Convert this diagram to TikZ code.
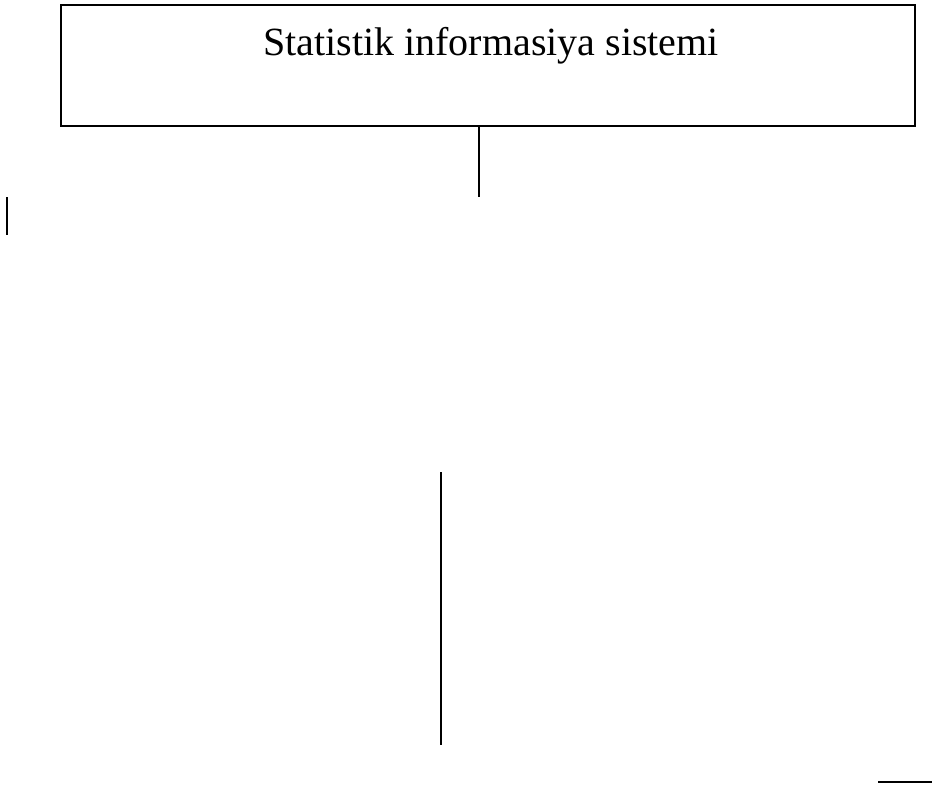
\documentclass[tikz,border=0pt]{standalone}
\usepackage{fontspec}
\setmainfont{Liberation Serif}
\begin{document}
\begin{tikzpicture}[x=1pt,y=-1pt,
  rule/.style={line width=1.6pt,line cap=butt},
  titlebox/.style={draw,line width=2pt,minimum width=854pt,minimum height=121pt,inner sep=0pt}]
  \useasboundingbox (0,0) rectangle (932,788);
  % top box with its title
  \node[titlebox] (sis) at (488,65.5) {};
  \node[font=\fontsize{40}{48}\selectfont,anchor=base] (title) at (491,55) {Statistik informasiya sistemi};
  % free line ends
  \coordinate (sisdown) at (479,197);
  \coordinate (la) at (7,197);
  \coordinate (lb) at (7,235);
  \coordinate (ma) at (441,472);
  \coordinate (mb) at (441,745);
  \coordinate (ra) at (878,782);
  \coordinate (rb) at (932,782);
  \draw[rule] (sis.south -| sisdown) -- (sisdown);
  \draw[rule] (la) -- (lb);
  \draw[rule] (ma) -- (mb);
  \draw[rule] (ra) -- (rb);
\end{tikzpicture}
\end{document}
